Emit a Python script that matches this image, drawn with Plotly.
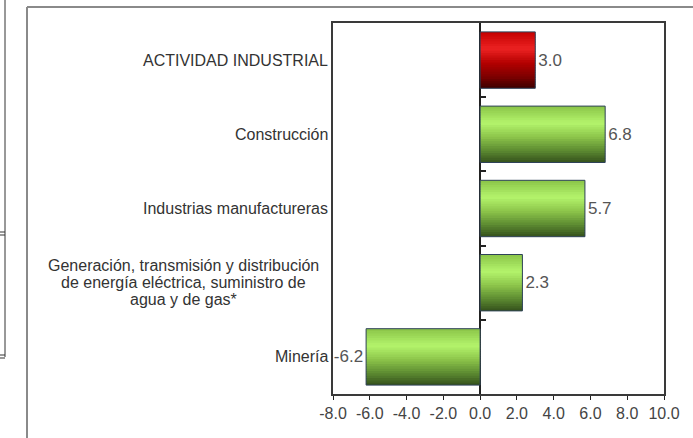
import plotly.graph_objects as go

categories = [
    "ACTIVIDAD INDUSTRIAL",
    "Construcción",
    "Industrias manufactureras",
    "Generación, transmisión y distribución<br>de energía eléctrica, suministro de<br>agua y de gas*",
    "Minería",
]
values = [3.0, 6.8, 5.7, 2.3, -6.2]
x_tickvals = [-8, -6, -4, -2, 0, 2, 4, 6, 8, 10]
x_ticktext = ["%.1f" % v for v in x_tickvals]
x_range = [-8, 10]

W, H = 693, 438
L, R, T, B = 333, 664, 23, 394
FONT = "Liberation Sans, Arial"

green_stops = [(0.0, (0x8a, 0xc4, 0x48)), (0.3, (0xb4, 0xf4, 0x6c)), (0.55, (0x8c, 0xc4, 0x4a)),
               (0.8, (0x5a, 0x88, 0x30)), (1.0, (0x34, 0x50, 0x1c))]
red_stops = [(0.0, (0xc4, 0x00, 0x00)), (0.3, (0xec, 0x22, 0x22)), (0.55, (0xb4, 0x00, 0x00)),
             (0.8, (0x7c, 0x00, 0x00)), (1.0, (0x3c, 0x00, 0x00))]


def grad(stops, t):
    for (t0, c0), (t1, c1) in zip(stops[:-1], stops[1:]):
        if t0 <= t <= t1:
            f = (t - t0) / (t1 - t0) if t1 > t0 else 0
            c = [round(a + (b - a) * f) for a, b in zip(c0, c1)]
            return "rgb(%d,%d,%d)" % tuple(c)
    return "rgb(%d,%d,%d)" % stops[-1][1]


ycat = list(range(len(categories)))
bar_w = 0.76
n = 24
step = bar_w / n

fig = go.Figure()
for i in range(n):
    t = (i + 0.5) / n
    cols = [grad(red_stops, t) if k == 0 else grad(green_stops, t) for k in range(len(values))]
    off = -bar_w / 2 + i * step
    fig.add_trace(go.Bar(
        y=ycat, x=values, orientation="h", width=step * 1.6 if i < n - 1 else step,
        offset=off, marker=dict(color=cols, line=dict(width=0)),
        hoverinfo="skip", showlegend=False,
    ))

fig.add_trace(go.Bar(
    y=ycat, x=values, orientation="h", width=bar_w, offset=-bar_w / 2,
    marker=dict(color="rgba(0,0,0,0)", line=dict(color="#2e4258", width=1)),
    texttemplate="%{x:.1f}", textposition="outside",
    textfont=dict(family=FONT, size=17, color="#555555"),
    cliponaxis=False, showlegend=False,
))

# invisible trace so the category-boundary tick axis at zero is drawn
fig.add_trace(go.Scatter(x=values, y=ycat, yaxis="y2", mode="none",
                         hoverinfo="skip", showlegend=False))

fig.update_layout(
    width=W, height=H, barmode="overlay",
    margin=dict(l=L, r=W - R, t=T, b=H - B),
    paper_bgcolor="white", plot_bgcolor="white",
    font=dict(family=FONT, size=16, color="#333333"),
    xaxis=dict(
        range=x_range, tickvals=x_tickvals, ticktext=x_ticktext,
        ticks="outside", ticklen=4, tickcolor="#222", tickwidth=1,
        showgrid=False, zeroline=True, zerolinecolor="#222", zerolinewidth=2,
        showline=True, linecolor="#3a3a3a", linewidth=2, mirror=True,
        tickfont=dict(family=FONT, size=16, color="#444444"),
    ),
    yaxis=dict(
        range=[len(categories) - 0.5, -0.5], showticklabels=False, ticks="",
        showgrid=False, zeroline=False,
        showline=True, linecolor="#3a3a3a", linewidth=2, mirror=True,
    ),
    yaxis2=dict(
        overlaying="y", anchor="free", side="right",
        position=(0 - x_range[0]) / (x_range[1] - x_range[0]),
        range=[len(categories) - 0.5, -0.5],
        tickvals=[k + 0.5 for k in range(len(categories) - 1)],
        ticks="outside", ticklen=5, tickcolor="#222", tickwidth=2,
        showticklabels=False, showgrid=False, zeroline=False, showline=False,
    ),
)

LINE_H = 17
for k, c in enumerate(categories):
    lines = c.split("<br>")
    mid = (len(lines) - 1) / 2
    for j, line in enumerate(lines):
        fig.add_annotation(
            x=0, xref="paper", y=k, yref="y", text=line, showarrow=False,
            xanchor="right" if len(lines) == 1 else "center",
            xshift=-3 if len(lines) == 1 else -150, yshift=(mid - j) * LINE_H,
            font=dict(family=FONT, size=16, color="#333333"),
        )


def px(xp):
    return (xp - L) / (R - L)


def py(yp):
    return (B - yp) / (B - T)


# outer frame fragments of the source page
fig.add_shape(type="line", xref="paper", yref="paper", x0=px(27), x1=px(27), y0=py(7), y1=py(440),
              line=dict(color="#8a8a8a", width=2))
fig.add_shape(type="line", xref="paper", yref="paper", x0=px(27), x1=px(700), y0=py(7), y1=py(7),
              line=dict(color="#8a8a8a", width=2))
fig.add_shape(type="line", xref="paper", yref="paper", x0=px(5), x1=px(5), y0=py(-2), y1=py(357),
              line=dict(color="#333333", width=1))
for yy in (232, 235, 355, 358):
    fig.add_shape(type="line", xref="paper", yref="paper", x0=px(-2), x1=px(5), y0=py(yy), y1=py(yy),
                  line=dict(color="#333333", width=1))

fig.write_html("out.html", config={"displayModeBar": False},
               post_script="document.body.style.margin='0px';")
